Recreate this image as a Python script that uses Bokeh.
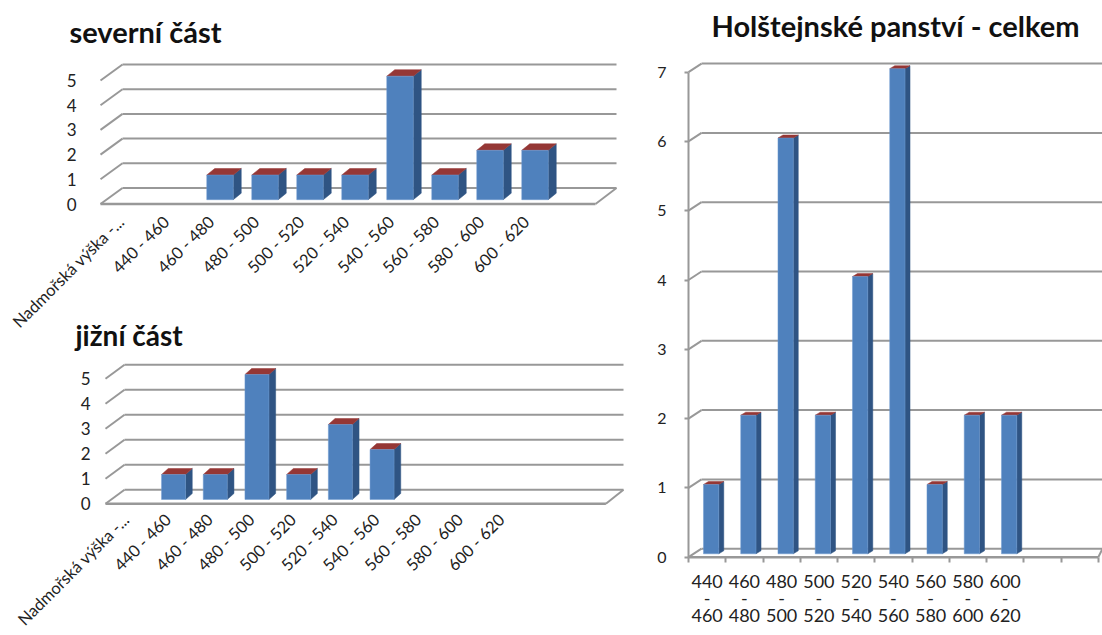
from bokeh.embed import file_html
from bokeh.layouts import column, row
from bokeh.models import ColumnDataSource, FixedTicker, Range1d, Title
from bokeh.plotting import figure
from bokeh.resources import INLINE

north_categories = ["Nadmořská výška -...", "440 - 460", "460 - 480", "480 - 500", "500 - 520",
                    "520 - 540", "540 - 560", "560 - 580", "580 - 600", "600 - 620"]
north_values = [0, 0, 1, 1, 1, 1, 5, 1, 2, 2]
south_categories = list(north_categories)
south_values = [0, 1, 1, 5, 1, 3, 2, 0, 0, 0]
total_categories = ["440\n-\n460", "460\n-\n480", "480\n-\n500", "500\n-\n520", "520\n-\n540",
                    "540\n-\n560", "560\n-\n580", "580\n-\n600", "600\n-\n620"]
total_values = [1, 2, 6, 2, 4, 7, 1, 2, 2]

FONT = "Lato"
GRID = "#989898"
FRONT = "#4f81bd"
SIDE = "#2f5483"
TOP = "#953735"
TEXT = "#222222"


def panel(title, cats, vals, n_bands, y_max, g):
    ux, uy = g["ux"], g["uy"]
    p = figure(width=g["w"], height=g["h"], output_backend="svg", toolbar_location=None,
               min_border_left=0, min_border_right=0, min_border_top=g["top"],
               min_border_bottom=0,
               x_range=Range1d(-g["left"] / ux, (g["w"] - g["left"]) / ux),
               y_range=Range1d(-g["bottom"] / uy, (g["h"] - g["top"] - g["bottom"]) / uy),
               border_fill_color=None, background_fill_color=None, outline_line_color=None,
               margin=g.get("margin", (0, 0, 0, 0)))
    p.grid.visible = False
    p.title = Title(text=title, text_font=FONT, text_font_size=g["title_size"], text_font_style="bold",
                    text_color="#111111", offset=g["title_x"], standoff=g["title_standoff"], align="left")

    ddx, ddy = g["ddx"] / ux, g["ddy"] / uy
    ticks = list(range(y_max + 1))
    xr = g["xr"] / ux
    for v in ticks:
        p.line([0, ddx], [v, v + ddy], line_color=GRID, line_width=g["lw"])
        p.line([ddx, xr], [v + ddy, v + ddy], line_color=GRID, line_width=g["lw"])
    p.line([n_bands, xr], [0, ddy], line_color=GRID, line_width=g["lw"])
    p.line([0, n_bands], [0, 0], line_color=GRID, line_width=g["lw"] + 0.5)

    xs = [i + 0.5 + g["shift"] / ux for i, v in enumerate(vals) if v > 0]
    vs = [v for v in vals if v > 0]
    hw = g["bar"] / ux / 2
    base = g["base"] / uy
    sx, sy = g["sx"] / ux, g["sy"] / uy
    side_x = [[x + hw, x + hw + sx, x + hw + sx, x + hw] for x in xs]
    side_y = [[base, base + sy, base + v + sy, base + v] for v in vs]
    top_x = [[x - hw, x + hw, x + hw + sx, x - hw + sx] for x in xs]
    top_y = [[base + v, base + v, base + v + sy, base + v + sy] for v in vs]
    p.patches(side_x, side_y, fill_color=SIDE, line_color=SIDE, line_width=0.5)
    p.patches(top_x, top_y, fill_color=TOP, line_color=TOP, line_width=0.5)
    p.quad(source=ColumnDataSource(dict(l=[x - hw for x in xs], r=[x + hw for x in xs],
                                        b=[base] * len(xs), t=[base + v for v in vs])),
           left="l", right="r", bottom="b", top="t", fill_color=FRONT, line_color="#6f9ad0", line_width=0.5)

    # axes
    xa, ya = p.xaxis[0], p.yaxis[0]
    ya.fixed_location = 0
    ya.ticker = FixedTicker(ticks=ticks)
    ya.bounds = (0, y_max)
    ya.major_label_text_font = FONT
    ya.major_label_text_font_size = g["ysize"]
    ya.major_label_text_color = TEXT
    ya.major_label_standoff = g["ystand"]
    ya.minor_tick_line_color = None
    ya.major_tick_in = 0
    ya.major_tick_out = g["tick"]
    ya.major_tick_line_color = GRID if g["tick"] else None
    ya.axis_line_color = GRID if g["tick"] else None
    ya.axis_line_width = 2
    ya.major_tick_line_width = 2

    centers = [i + 0.5 + g.get("tick_shift", 0) for i in range(len(cats))]
    edges = list(range(n_bands + 1))
    xa.fixed_location = 0
    xa.ticker = FixedTicker(ticks=centers, minor_ticks=edges if g["tick"] else [])
    xa.major_label_overrides = {c: t for c, t in zip(centers, cats)}
    xa.major_label_text_font = FONT
    xa.major_label_text_font_size = g["xsize"]
    xa.major_label_text_color = TEXT
    xa.major_label_standoff = g["xstand"]
    xa.major_label_text_line_height = g.get("lh", 1.2)
    xa.major_tick_line_color = None
    xa.major_tick_in = 0
    xa.major_tick_out = 0
    xa.minor_tick_in = 0
    xa.minor_tick_out = 5
    xa.minor_tick_line_color = GRID
    xa.minor_tick_line_width = 2
    xa.axis_line_color = None
    if g.get("angle"):
        xa.major_label_orientation = g["angle"]
    return p


north = panel("severní část", north_categories, north_values, 11, 5, dict(
    w=640, h=345, left=100, top=60, bottom=141.5, ux=45, uy=24.7, ddx=22, ddy=16, xr=516,
    bar=26.5, shift=7, base=4.3, sx=8, sy=6.5, lw=2, tick=0, ysize="17px", ystand=24,
    xsize="16.5px", xstand=15, tick_shift=-0.04, angle=0.785,
    title_size="29px", title_x=69, title_standoff=23))
south = panel("jižní část", south_categories, south_values, 12, 5, dict(
    w=640, h=331, left=105, top=56, bottom=131.7, ux=41.7, uy=25.0, ddx=19, ddy=14, xr=518,
    bar=24, shift=5.5, base=4.3, sx=6.7, sy=6, lw=2, tick=0, ysize="17px", ystand=15,
    xsize="16.5px", xstand=13, angle=0.785, title_size="28px", title_x=75, title_standoff=17,
    margin=(-41, 0, 0, 0)))
total = panel("Holštejnské panství - celkem", total_categories, total_values, 11, 7, dict(
    w=462, h=655, left=48, top=80, bottom=78.3, ux=37.25, uy=69.3, ddx=13, ddy=8.5, xr=414,
    bar=15.3, shift=4, base=3.4, sx=5, sy=3, lw=2, tick=4, ysize="16px", ystand=18,
    xsize="18px", xstand=8, lh=0.76, title_size="29px", title_x=71, title_standoff=35,
    margin=(-20, 0, 0, 0)))

page = row(column(north, south, spacing=0), total, spacing=0)
open("out.html", "w").write(file_html(page, INLINE))
